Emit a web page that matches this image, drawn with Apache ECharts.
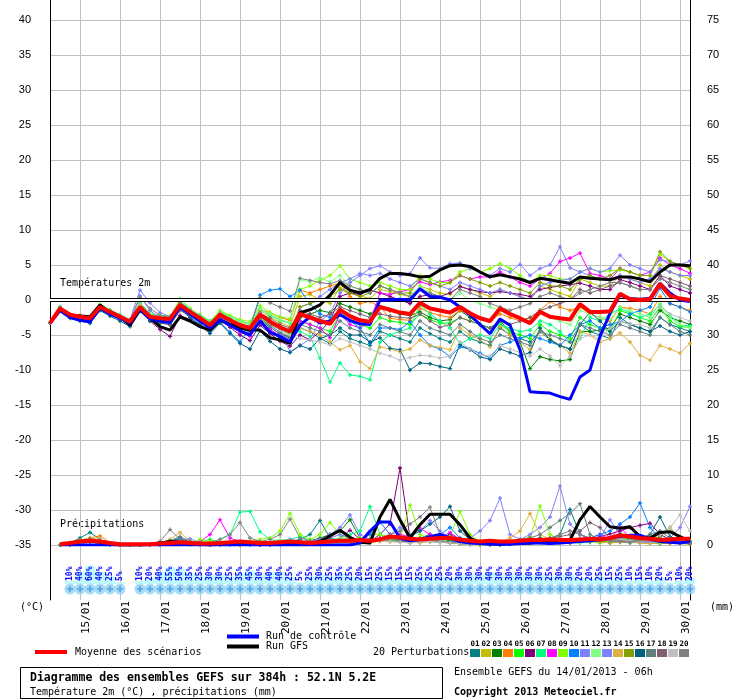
<!DOCTYPE html>
<html>
<head>
<meta charset="utf-8">
<script src="https://cdn.jsdelivr.net/npm/echarts@6/dist/echarts.min.js"></script>
<style>html,body{margin:0;padding:0;background:#fff}#chart{width:740px;height:700px}</style>
</head>
<body>
<div id="chart"></div>
<script>
const chart = echarts.init(document.getElementById('chart'));

// dates (grid every 00h), time steps are 6h from 14/01 06h (0..64)
const days = ['15/01','16/01','17/01','18/01','19/01','20/01','21/01','22/01','23/01','24/01','25/01','26/01','27/01','28/01','29/01','30/01'];

// 2m temperature (°C)
const tMean = [-3.3,-1.2,-2.1,-2.4,-2.6,-1.0,-1.7,-2.4,-3.1,-1.0,-2.4,-2.6,-2.7,-0.7,-1.7,-2.6,-3.6, -2.1,-2.9,-3.6,-4.0,-2.1,-3.1,-3.9,-4.5, -2.0,-2.5,-3.0,-3.4,-1.4,-2.3,-2.9,-3.1, -1.0,-1.4,-1.8,-2.0,-0.4,-1.2,-1.5,-1.8,-1.0,-1.9,-2.6,-3.0, -1.2,-2.0,-2.6,-3.3,-1.7,-2.4,-2.6,-2.8,-0.6,-1.7,-1.7,-1.6, 0.9,0.1,0.0,0.1,2.3,0.6,0.2,0.0];
const tGfs = [-3.3,-1.4,-2.3,-2.3,-2.4,-0.7,-1.8,-2.4,-3.6,-1.4,-2.6,-3.8,-4.3,-2.4,-3.0,-3.8,-4.3, -2.9,-3.5,-4.0,-4.3,-4.3,-5.4,-5.7,-6.2, -1.8,-1.4,-0.7,0.7,2.5,1.4,1.0,1.5, 3.1,3.8,3.8,3.6,3.3,3.4,4.3,4.9,5.0,4.8,4.0,3.3, 3.6,3.3,3.0,2.5,3.1,2.9,2.6,2.4,3.3,3.1,3.0,2.9, 3.3,3.3,3.0,2.6,4.0,5.0,5.0,4.9];
const tCtrl = [-3.3,-1.5,-2.5,-2.9,-3.1,-1.2,-2.0,-2.6,-3.3,-1.3,-2.7,-3.0,-3.2,-1.0,-2.0,-3.0,-4.0, -2.8,-3.6,-4.4,-5.0,-3.0,-4.6,-5.2,-6.0, -3.6,-2.4,-3.3,-3.0,-2.1,-2.9,-3.4,-3.5, 0.0,0.0,0.1,0.0,1.6,0.5,0.4,0.0,-1.0,-2.1,-3.5,-4.8, -2.7,-3.6,-7.1,-13.1,-13.2,-13.3,-13.8,-14.2,-11.0,-10.0,-5.2,-1.9, 0.7,0.2,0.1,0.2,2.4,1.0,0.0,-0.2];

const t01 = [-3.3,-1.0,-2.2,-2.3,-2.8,-0.8,-1.9,-2.6,-3.4,-0.6,-2.5,-2.8,-3.0,-0.5,-2.0,-3.0,-4.2, -2.5,-3.4,-4.3,-5.0,-3.0,-4.5,-5.5,-6.0, -4.0,-4.5,-5.5,-6.2,-4.5,-5.5,-6.0,-6.5, -4.5,-5.0,-5.5,-6.0,-4.0,-4.8,-5.5,-6.0,-4.5,-5.5,-6.0,-6.5, -4.0,-5.0,-5.5,-6.0,-4.5,-5.7,-6.5,-7.0,-3.5,-4.5,-5.0,-5.5, -2.5,-3.5,-4.0,-4.5,-2.5,-3.5,-4.0,-4.5];
const t02 = [-3.3,-1.3,-2.0,-2.4,-2.5,-1.2,-1.5,-2.2,-3.0,-1.2,-2.2,-2.4,-2.4,-0.6,-1.5,-2.2,-3.2, -1.8,-2.6,-3.2,-3.5,-1.5,-2.4,-3.2,-3.8, 0.5,0.8,0.0,-0.5,1.8,1.0,0.6,0.2, 1.5,1.2,0.8,0.5,2.0,1.5,1.0,0.8,2.0,1.5,1.0,0.5, 1.5,1.0,0.5,0.0,2.0,1.5,1.0,0.5,3.0,2.5,2.0,2.0, 3.5,3.0,2.5,2.0,5.0,4.0,3.5,3.0];
const t03 = [-3.3,-1.4,-2.3,-2.6,-2.7,-0.9,-1.8,-2.5,-3.2,-0.8,-2.6,-3.0,-3.2,-0.9,-2.1,-3.1,-3.9, -2.3,-3.2,-4.0,-4.5,-2.8,-3.9,-4.8,-5.4, -2.5,-2.0,-1.5,-1.8,-0.5,-1.0,-1.5,-2.0, -1.0,-1.5,-2.0,-2.2,-1.7,-2.5,-3.0,-2.8,-1.5,-2.5,-3.5,-4.0, -3.0,-4.5,-6.0,-9.8,-8.1,-8.5,-8.7,-8.5,-4.5,-4.5,-4.3,-4.0, -2.0,-2.5,-3.0,-3.5,-1.5,-2.5,-3.0,-3.5];
const t04 = [-3.3,-1.1,-2.0,-2.2,-2.4,-0.9,-1.6,-2.3,-2.9,-1.1,-2.0,-2.2,-2.3,-0.4,-1.4,-2.4,-3.3, -1.9,-2.7,-3.4,-3.8,-1.4,-1.8,-2.5,-2.9, 1.4,1.0,1.5,2.0,2.4,0.5,-0.5,-0.2, -1.0,-2.6,-2.8,-2.9,-1.2,-1.8,-2.2,-2.5,-1.5,-2.0,-2.5,-3.0, -2.0,-2.5,-3.0,-2.5,-1.5,-0.2,-1.0,-1.5,-1.0,-2.0,-2.5,-3.0, -1.0,-1.2,-1.5,-2.0,0.5,-0.5,-1.0,-1.5];
const t05 = [-3.3,-1.3,-2.2,-2.5,-2.8,-1.1,-1.8,-2.4,-3.0,-0.9,-2.3,-2.5,-2.6,-0.8,-1.9,-2.8,-3.7, -2.2,-3.1,-3.9,-4.4,-2.4,-3.5,-4.2,-4.9, -3.0,-3.5,-4.0,-4.5,-2.0,-3.0,-3.5,-4.0, -2.5,-3.0,-3.2,-3.5,-2.0,-2.8,-3.3,-3.3,-2.5,-3.0,-3.5,-4.0, -3.5,-4.5,-5.0,-5.5,-3.5,-4.5,-5.0,-5.5,-2.5,-3.5,-4.0,-4.5, -1.5,-2.0,-2.5,-3.0,-1.0,-3.0,-3.8,-3.9];
const t06 = [-3.3,-1.2,-2.4,-2.6,-3.2,-1.1,-1.9,-2.8,-3.3,-1.5,-3.0,-4.2,-5.2,-2.2,-2.8,-3.6,-4.4, -2.8,-3.9,-5.0,-5.8,-3.6,-4.8,-5.9,-6.6, -5.0,-5.7,-4.5,-3.0,0.5,1.0,0.8,1.4, 1.0,0.5,0.0,-0.5,0.5,0.8,0.5,1.0,1.9,1.5,1.2,1.0, 1.2,1.0,0.8,0.5,1.5,1.8,2.0,2.2,2.4,2.0,1.5,1.5, 2.9,2.5,2.0,1.5,3.5,2.0,1.5,1.0];
const t07 = [-3.3,-1.0,-2.0,-2.3,-2.5,-0.8,-1.4,-2.1,-2.8,-0.4,-1.9,-2.2,-2.3,-0.2,-1.3,-2.1,-3.0, -1.6,-2.4,-3.0,-3.4,-1.2,-2.2,-2.9,-3.3, -4.5,-5.2,-8.3,-11.7,-9.0,-10.7,-10.9,-11.4, -6.0,-5.0,-4.5,-4.0,-0.7,-2.0,-3.0,-4.0,-6.3,-5.5,-5.0,-5.5, -3.5,-4.0,-4.5,-4.3,-3.0,-3.5,-4.5,-6.0,-5.5,-2.5,-3.0,-2.0, -1.2,-1.8,-2.5,-2.0,-0.7,-2.1,-3.6,-3.7];
const t08 = [-3.3,-1.3,-2.2,-2.5,-2.9,-1.0,-1.7,-2.4,-3.3,-1.2,-2.6,-2.9,-3.0,-1.1,-2.0,-3.0,-4.0, -2.6,-3.6,-4.6,-5.2,-2.9,-4.2,-5.1,-5.6, -3.0,-3.5,-4.0,-5.4,-2.0,-3.5,-4.0,-3.0, 1.0,0.8,1.2,1.5,2.6,2.2,2.6,2.8,3.5,3.0,3.3,3.3, 4.0,3.3,2.5,2.0,3.0,3.8,5.5,6.0,6.7,3.8,3.5,3.0, 4.5,4.0,3.5,4.0,6.0,5.0,4.5,3.8];
const t09 = [-3.3,-1.1,-2.1,-2.4,-2.6,-0.6,-1.5,-2.2,-2.9,-0.8,-2.1,-2.4,-2.5,0.2,-1.2,-2.2,-3.1, -1.5,-2.2,-2.8,-3.1,-0.8,-1.8,-2.4,-2.7, 1.5,2.0,2.8,3.5,4.9,3.0,2.5,2.0, 2.5,2.0,1.5,1.5,3.5,3.0,2.5,2.5,4.0,4.5,4.0,4.5, 5.2,4.5,3.5,2.5,3.5,3.5,3.0,3.0,4.0,4.5,4.0,4.2, 4.3,4.0,3.5,3.5,6.5,5.5,5.0,4.5];
const t10 = [-3.3,-1.2,-2.0,-2.6,-3.3,-1.3,-2.0,-2.7,-3.6,-1.1,-2.8,-3.1,-3.3,-1.3,-2.4,-3.4,-4.5, -3.2,-4.6,-6.0,-4.0,0.7,1.4,1.6,0.5, 1.4,-0.5,-2.0,-2.5,-1.5,-3.0,-4.0,-6.2, -4.0,-4.0,-4.2,-3.1,-5.0,-6.5,-7.0,-8.1,-6.7,-7.0,-7.6,-8.3, -6.5,-6.0,-5.5,-5.0,-5.5,-6.0,-6.5,-5.0,-3.5,-3.0,-4.0,-3.5, -3.1,-2.0,-1.5,-1.0,1.7,-0.5,-1.0,-1.7];
const t11 = [-3.3,-1.2,-2.1,-2.3,-2.4,-0.9,-1.6,-2.2,-2.8,1.4,-0.4,-1.8,-2.4,-0.7,-1.6,-2.5,-3.4, -2.0,-2.8,-3.4,-3.9,-1.8,-3.0,-4.2,-7.4, -6.5,-5.6,-3.0,-2.0,1.0,2.5,3.5,4.5, 4.9,4.0,3.5,3.8,6.0,4.6,4.5,5.2,5.3,4.5,4.0,3.5, 4.5,4.0,5.1,3.5,4.5,5.0,7.6,4.6,4.0,4.5,4.0,4.5, 6.4,5.0,4.5,4.0,5.7,5.5,5.0,5.6];
const t12 = [-3.3,-1.1,-2.0,-2.3,-2.5,-0.7,-1.5,-2.2,-2.8,-0.6,-2.0,-2.3,-2.4,0.1,-1.2,-2.3,-3.2, -1.7,-2.5,-3.1,-3.5,-1.3,-2.0,-2.8,-3.2, 2.9,2.6,3.2,2.6,3.5,2.0,1.5,1.0, 2.0,1.5,1.0,0.5,2.0,1.0,0.5,0.0,1.0,0.0,-0.5,-1.0, -1.5,-2.0,-2.5,-3.0,-1.5,-2.5,-3.0,-3.5,-1.5,-2.0,-2.5,-2.8, -1.0,-1.5,-2.0,-2.5,-0.5,-2.5,-3.5,-4.0];
const t13 = [-3.3,-1.3,-2.3,-2.6,-2.8,-1.1,-1.9,-2.6,-3.2,0.6,-1.5,-2.6,-2.9,-0.9,-1.9,-2.8,-3.8, -2.4,-3.3,-4.1,-4.6,-2.6,-3.8,-4.9,-5.6, -1.0,-0.5,0.5,1.5,2.5,3.0,3.8,3.5, 3.8,3.0,2.5,2.0,3.0,2.5,2.0,1.5,2.5,2.0,1.5,1.0, 1.5,1.0,0.5,0.0,2.0,2.5,2.8,3.0,4.0,3.5,3.0,3.0, 3.5,3.0,2.5,3.0,4.5,4.0,3.5,3.5];
const t14 = [-3.3,-1.2,-2.1,-2.4,-2.6,-0.9,-1.6,-2.3,-3.0,-0.7,-2.2,-2.5,-2.6,-0.4,-1.6,-2.5,-3.4, -2.0,-2.9,-3.7,-4.2,-2.0,-3.2,-4.0,-4.6, -4.0,-4.5,-5.0,-6.0,-7.1,-6.5,-8.8,-9.8, -6.7,-7.0,-7.4,-7.0,-5.7,-6.5,-6.8,-7.1,-4.0,-5.0,-5.7,-6.7, -3.8,-5.0,-6.0,-7.1,-4.5,-5.5,-6.5,-7.6,-4.5,-5.0,-6.0,-5.5, -4.7,-6.0,-7.9,-8.6,-6.5,-7.0,-7.6,-6.2];
const t15 = [-3.3,-1.2,-2.2,-2.5,-2.7,-1.0,-1.8,-2.5,-3.1,-1.0,-2.4,-2.7,-2.8,-0.6,-1.7,-2.7,-3.6, -2.1,-3.0,-3.8,-4.3,-2.2,-3.3,-4.1,-4.7, -1.0,-0.5,0.0,0.5,1.5,1.0,0.5,1.0, 2.0,1.5,1.0,1.0,3.0,2.5,2.0,2.5,3.5,3.0,2.5,2.0, 2.5,2.0,1.5,1.0,2.5,2.0,2.0,1.5,3.0,3.5,3.0,3.5, 4.5,4.0,3.5,3.5,6.9,5.5,5.0,4.5];
const t16 = [-3.3,-1.5,-2.6,-3.0,-3.3,-1.5,-2.3,-3.0,-3.8,-1.6,-3.0,-3.3,-3.5,-1.3,-2.5,-3.6,-4.8, -3.3,-4.8,-6.2,-7.0,-4.4,-5.9,-7.0,-7.5, -6.5,-7.0,-5.5,-5.0,-4.0,-5.0,-5.0,-6.0, -5.4,-6.9,-7.1,-10.0,-9.0,-9.1,-9.5,-9.8,-6.4,-7.1,-8.1,-8.5, -7.0,-7.5,-8.0,-7.5,-4.0,-5.7,-6.5,-7.0,-3.5,-1.7,-3.0,-4.5, -3.0,-3.5,-4.0,-4.5,-3.7,-4.5,-5.0,-4.5];
const t17 = [-3.3,-1.4,-2.4,-2.7,-2.9,-1.2,-1.9,-2.6,-3.3,-1.1,-2.6,-2.9,-3.0,-0.8,-1.9,-2.9,-3.9, -2.6,-3.5,-4.4,-4.9,-2.7,-3.6,-4.6,-5.2, -3.5,-4.0,-4.5,-5.0,-3.0,-4.0,-4.5,-5.0, -3.5,-4.0,-4.5,-5.0,-3.0,-4.0,-4.5,-5.0,-3.5,-4.5,-5.5,-6.0, -5.0,-5.5,-6.0,-6.5,-4.5,-5.0,-5.5,-6.0,-3.5,-4.0,-4.5,-5.0, -3.5,-4.0,-4.5,-5.0,-2.5,-3.5,-4.5,-5.0];
const t18 = [-3.3,-1.2,-2.2,-2.5,-2.8,-1.1,-1.8,-2.5,-3.2,-1.3,-2.7,-3.1,-3.6,-1.5,-2.2,-3.2,-4.1, -2.4,-3.2,-4.0,-4.5,-1.9,-2.6,-3.5,-4.0, -1.5,-2.0,-2.5,-2.0,-1.0,-1.5,-2.0,-2.5, -2.0,-2.3,-2.5,-2.6,-2.0,-3.0,-3.9,-3.5,-2.5,-3.0,-3.5,-4.0, -3.0,-3.5,-3.0,-2.5,-1.5,-1.0,-0.5,0.0,1.5,1.0,1.5,2.0, 2.5,2.0,1.5,1.5,3.5,3.0,2.5,2.0];
const t19 = [-3.3,-1.3,-2.2,-2.4,-2.6,-1.0,-1.7,-2.4,-3.1,-0.9,-2.3,-2.6,-2.7,-0.7,-1.8,-2.7,-3.6, -2.2,-3.0,-3.7,-4.1,-2.1,-3.3,-4.3,-5.0, -5.5,-5.7,-6.0,-6.4,-5.5,-6.0,-6.5,-7.0, -7.6,-8.0,-8.6,-8.2,-7.9,-8.0,-8.3,-8.0,-6.0,-7.0,-7.8,-8.0, -6.5,-7.0,-7.5,-8.0,-7.0,-8.0,-9.4,-8.0,-5.5,-5.0,-5.5,-4.0, -3.0,-3.5,-3.5,-4.0,-1.0,-2.0,-2.5,-3.0];
const t20 = [-3.3,-1.1,-2.1,-2.3,-2.5,-0.9,-1.6,-2.3,-2.9,0.4,-1.2,-2.2,-2.5,-0.3,-1.5,-2.4,-3.3, -1.9,-2.7,-3.5,-3.8,0.3,-0.4,-1.0,-1.6, 3.1,2.8,2.5,2.3,2.8,2.0,1.5,1.0, 2.0,1.5,1.0,0.5,1.5,1.0,0.5,0.0,1.5,1.0,0.5,-0.5, -1.0,-1.5,-1.0,-0.5,0.5,1.0,0.5,0.0,1.0,1.5,2.0,2.5, 2.5,2.0,1.5,1.5,3.0,2.5,2.0,1.5];

// 6h precipitation (mm), no value at the start time
const pMean = [null, 0.1,0.3,0.5,0.6,0.5,0.3,0.1,0.1, 0.1,0.1,0.2,0.3,0.4,0.3,0.2,0.2, 0.3,0.4,0.5,0.4,0.3,0.3,0.4,0.5, 0.4,0.3,0.4,0.5,0.6,0.6,0.7,0.6, 0.8,1.2,1.1,0.9,0.8,0.9,1.0,1.0, 0.8,0.6,0.5,0.6,0.5,0.5,0.6,0.7, 0.7,0.8,0.7,0.7,0.8,0.9,0.8,1.0, 1.4,1.2,1.0,0.9,0.7,0.8,0.9,0.9];
const pGfs = [null, 0,0.2,0.5,0.6,0.4,0.1,0,0, 0,0.1,0.3,0.5,0.4,0.2,0.1,0, 0.1,0.2,0.2,0.1,0.1,0.1,0.2,0.2, 0.1,0.2,0.5,1.3,2.1,1.1,0.4,0.3, 4.0,6.5,3.6,1.0,2.9,4.4,4.4,4.4, 2.9,1.0,0.3,0.2,0.1,0.2,0.2,0.3, 0.4,0.5,0.6,0.7,3.6,5.5,4.0,2.6, 2.4,2.6,1.2,1.0,1.8,1.9,1.2,0.5];
const pCtrl = [null, 0,0,0,0,0,0,0,0, 0,0,0,0,0,0,0,0, 0,0,0,0,0,0,0,0, 0,0,0,0,0,0,0.3,2.0, 3.3,3.3,1.0,0.6,0.8,1.2,1.5,1.0, 0.5,0.3,0.2,0.1,0.1,0.1,0.2,0.3, 0.3,0.2,0.3,0.4,0.5,0.6,0.8,1.0, 1.2,1.4,1.4,0.8,0.5,0.4,0.3,0.5];

const p01 = [null, 0,0.3,1.0,1.8,0.8,0.1,0,0, 0,0,0.2,0.6,0.9,0.4,0.1,0, 0,0.1,0.3,0.2,0.1,0,0.2,0.5, 0.8,1.5,3.5,1.0,0.5,0.3,0.2,0.5, 1.0,0.8,0.5,0.3,0.5,0.8,1.2,0.5, 0.3,0.2,0.1,0.1,0.2,0.1,0.3,0.5, 0.4,0.8,1.5,5.1,1.5,0.8,0.5,0.3, 1.0,0.5,0.3,0.5,0.8,0.4,0.3,0.2];
const p02 = [null, 0,0.2,0.6,0.9,0.5,0.1,0,0, 0,0,0.1,0.4,0.6,0.3,0,0, 0,0,0.2,0.3,0.1,0,0.1,0.3, 0.5,0.3,0.6,0.4,0.8,1.0,0.5,0.3, 0.6,0.5,0.9,0.4,0.3,0.6,0.8,0.4, 0.2,0.1,0,0.1,0.1,0.2,0.6,1.2, 0.5,0.3,0.4,0.6,0.5,0.4,0.3,0.8, 0.6,0.4,0.3,0.2,0.5,0.3,0.2,0.1];
const p03 = [null, 0,0.1,0.4,0.7,0.5,0.1,0,0, 0,0,0,0.3,0.5,0.2,0,0, 0,0.1,0.2,0.1,0,0.1,0.3,0.6, 0.4,0.6,1.0,1.5,2.0,3.6,1.0,0.5, 0.8,1.2,0.6,0.4,1.0,1.5,1.0,0.6, 0.3,0.2,0.1,0,0.1,0.2,0.4,0.6, 1.0,0.8,0.6,0.5,0.4,0.6,0.5,0.3, 0.5,0.8,0.4,0.3,0.2,0.4,0.3,0.2];
const p04 = [null, 0,0.2,0.7,1.0,1.3,0.3,0,0, 0,0,0.1,0.5,0.7,0.5,0.1,0, 0,0,0.1,0.2,0.1,0,0.2,0.4, 0.3,0.2,0.4,0.5,0.3,0.2,0.4,0.6, 0.5,0.8,1.0,0.6,0.4,0.5,0.6,0.3, 0.2,0.1,0.1,0,0.1,0.3,0.5,0.4, 0.3,0.5,0.8,0.6,0.4,0.8,1.2,0.6, 0.4,0.3,0.6,0.4,0.3,0.2,0.5,0.3];
const p05 = [null, 0,0.1,0.3,0.6,0.4,0,0,0, 0,0,0,0.2,0.3,0.1,0.5,0.8, 0.3,0.1,0,0.1,0,0.2,0.3,0.2, 0.1,0.3,0.5,0.8,0.6,0.5,0.3,0.4, 0.6,1.0,0.8,0.5,0.7,0.9,0.6,0.4, 0.3,0.2,0.1,0.1,0,0.2,0.3,0.5, 0.6,0.4,0.5,0.3,0.6,0.4,0.8,1.0, 1.5,0.6,0.4,0.3,0.2,0.5,0.4,0.3];
const p06 = [null, 0,0.1,0.3,0.5,0.3,0,0,0, 0,0,0.1,0.3,0.4,0.2,0,0, 0,0.1,0.1,0.2,0,0.1,0.2,0.3, 0.2,0.4,0.6,0.8,1.0,2.1,0.8,0.5, 1.5,3.0,11.0,1.0,0.5,0.8,1.0,1.5, 0.8,0.4,0.2,0.1,0.1,0.2,0.4,0.3, 0.5,0.6,0.4,0.3,0.5,0.8,1.2,1.6, 2.0,2.5,2.8,3.1,1.5,0.8,0.5,0.3];
const p07 = [null, 0,0.1,0.2,0.4,0.2,0,0,0, 0,0,0,0.2,0.3,0.1,0,0.3, 0.8,1.5,4.7,4.8,1.9,0.8,0.5,0.8, 1.2,0.6,0.5,0.8,1.0,1.5,2.0,5.5, 1.5,0.8,0.6,0.5,0.8,1.0,0.6,0.3, 0.2,0.1,0.1,0,0.1,0.2,0.3,0.2, 0.4,0.3,0.5,0.4,0.3,0.5,0.4,0.6, 0.5,0.3,0.4,0.3,0.5,0.8,0.5,0.4];
const p08 = [null, 0,0.1,0.4,0.8,0.5,0.1,0,0, 0,0,0.1,0.4,0.5,0.2,0.5,1.5, 3.6,1.0,0.5,0.3,0.2,0.1,0.2,0.3, 0.5,0.3,0.4,0.6,0.5,0.8,0.6,0.4, 0.8,1.0,1.5,1.2,2.4,1.5,1.0,1.8, 0.8,0.4,0.2,0.1,0.1,0.3,0.2,0.4, 0.6,0.5,0.4,0.6,0.8,1.0,1.5,0.8, 2.6,1.0,0.5,0.8,0.6,0.4,0.3,0.2];
const p09 = [null, 0,0.2,0.4,0.6,0.4,0.1,0,0, 0,0,0,0.2,0.4,0.2,0.8,0.4, 0.2,0.1,0.3,0.5,0.8,1.0,2.0,4.5, 1.5,0.8,1.5,3.2,1.5,0.8,1.0,1.5, 1.5,1.2,0.8,5.7,1.5,0.8,1.0,1.2, 4.8,1.5,0.5,0.3,0.2,0.4,0.6,1.0, 5.6,1.5,0.8,0.5,0.4,0.6,0.3,0.4, 0.8,0.5,0.3,0.5,0.6,0.4,0.5,0.6];
const p10 = [null, 0,0.1,0.3,0.5,0.3,0,0,0, 0,0,0.1,0.5,1.0,0.4,0.1,0, 0,0.1,0.2,0.1,0,0.1,0.2,0.3, 0.4,0.3,0.5,0.6,0.4,0.5,0.8,1.5, 3.3,1.5,0.8,0.5,0.6,0.8,1.5,2.5, 1.0,0.5,0.3,0.2,0.1,0.2,0.3,0.4, 0.5,0.6,0.4,0.5,0.8,1.0,1.5,2.0, 3.0,4.0,6.0,2.5,1.0,0.6,0.4,0.3];
const p11 = [null, 0,0.1,0.3,0.6,0.4,0.1,0,0, 0,0,0.1,0.3,0.6,0.9,0.3,0, 0,0.1,0.2,0.3,0.2,0.4,0.6,0.8, 0.5,0.6,0.8,1.5,2.5,4.3,1.5,0.8, 0.6,0.8,1.0,0.6,0.5,0.8,0.6,0.4, 0.5,1.0,2.0,3.5,6.7,1.5,0.8,1.5, 2.5,4.0,8.4,3.0,1.5,1.0,0.8,3.6, 1.5,0.8,0.6,0.5,0.8,1.0,2.5,5.5];
const p12 = [null, 0,0.1,0.3,0.5,0.3,0,0,0, 0,0,0,0.2,0.3,0.1,0,0, 0.1,0.2,0.3,0.4,0.3,0.5,0.8,0.6, 0.4,0.5,0.6,0.8,1.0,0.8,0.6,0.5, 0.8,1.0,1.2,0.8,0.6,0.5,0.4,0.3, 0.2,0.1,0.1,0.1,0.2,0.3,0.5,0.4, 0.3,0.5,0.4,0.6,0.5,0.4,0.3,0.5, 0.8,0.6,0.4,0.3,0.5,0.6,0.8,0.5];
const p13 = [null, 0,0.1,0.2,0.4,0.3,0,0,0, 0,0,0.1,0.2,0.4,0.6,0.2,0, 0,0,0.1,0.2,0.1,0.2,0.3,0.4, 0.3,0.5,0.8,1.0,1.5,1.0,0.6,0.8, 1.0,1.5,2.5,1.5,2.0,3.5,2.0,1.0, 0.5,0.3,0.2,0.1,0.2,0.3,0.4,0.5, 0.6,0.8,0.6,0.5,0.8,1.0,0.8,0.6, 0.5,0.4,0.3,0.4,0.5,0.6,0.4,0.3];
const p14 = [null, 0,0.2,0.6,1.0,0.8,0.2,0,0, 0,0,0.2,0.8,1.8,0.6,0.1,0, 0,0,0.1,0.2,0.1,0.1,0.2,0.3, 0.2,0.3,0.4,0.5,0.3,0.4,0.5,0.4, 0.6,0.5,0.4,0.3,0.4,0.6,0.5,0.3, 0.2,0.1,0.2,0.3,0.4,1.0,2.0,4.5, 1.5,0.8,0.5,0.4,0.6,0.5,0.4,0.3, 0.4,0.5,0.3,0.2,0.3,0.4,0.3,0.2];
const p15 = [null, 0,0.1,0.3,0.5,0.4,0.1,0,0, 0,0,0.1,0.3,0.4,0.2,0,0, 0,0.1,0.1,0.2,0.1,0,0.1,0.2, 0.3,0.4,0.5,0.6,0.4,0.5,0.6,0.8, 1.0,0.8,0.6,0.8,1.0,0.6,0.4,0.3, 0.2,0.2,0.1,0.1,0.2,0.3,0.4,0.5, 0.6,0.5,0.4,0.6,0.8,0.6,0.5,0.6, 0.8,1.0,0.6,0.8,1.2,2.5,1.0,0.6];
const p16 = [null, 0,0.2,0.5,0.8,0.5,0.1,0,0, 0,0,0.1,0.5,0.8,0.4,0.1,0, 0,0.1,0.2,0.1,0,0.1,0.2,0.3, 0.5,0.4,0.6,0.8,0.6,0.5,0.4,0.6, 0.8,1.0,0.8,1.2,2.0,3.0,4.0,5.5, 2.0,0.8,0.4,0.2,0.1,0.2,0.3,0.5, 0.8,0.6,0.5,0.8,0.6,0.5,0.8,1.0, 1.5,1.0,0.8,1.5,4.0,1.2,0.6,0.4];
const p17 = [null, 0,0.1,0.4,0.7,0.5,0.1,0,0, 0,0,0.1,0.6,1.2,0.5,0.1,0, 0,0.1,0.2,0.1,0.1,0.2,0.2,0.3, 0.4,0.3,0.5,0.6,0.5,0.4,0.6,0.5, 0.8,0.6,0.5,0.4,0.6,0.8,0.5,0.4, 0.3,0.2,0.1,0.2,0.3,0.5,0.8,1.0, 1.5,2.5,3.5,4.5,5.9,1.5,0.8,0.6, 0.5,0.8,1.0,1.5,2.0,1.0,0.5,0.3];
const p18 = [null, 0,0.1,0.3,0.5,0.4,0,0,0, 0,0,0.1,0.4,0.6,0.3,0,0, 0,0,0.1,0.2,0.1,0,0.1,0.2, 0.3,0.2,0.4,0.5,0.3,0.4,0.5,0.6, 0.8,1.0,0.7,0.5,0.6,0.5,0.4,0.3, 0.2,0.1,0.1,0.1,0.2,0.3,0.4,0.6, 0.8,1.0,1.2,1.5,2.0,3.2,2.5,1.0, 0.6,0.5,0.8,1.0,0.6,0.4,0.3,0.2];
const p19 = [null, 0,0.1,0.3,0.5,0.3,0,0,0, 0,0,0.1,0.3,0.5,0.2,0,0, 0,0,0.1,0.2,0.1,0.1,0.2,0.3, 0.2,0.3,0.4,0.3,0.2,0.3,0.4,0.5, 0.6,0.5,0.4,0.3,0.4,0.5,0.4,0.3, 0.2,0.1,0.1,0.1,0.1,0.2,0.3,0.4, 0.5,0.4,0.3,0.4,0.5,0.6,0.8,1.0, 0.8,0.6,0.5,0.8,1.5,2.5,4.3,2.0];
const p20 = [null, 0,0.2,0.5,0.9,0.6,0.1,0,0, 0,0,0.5,2.2,0.8,0.3,0.1,0.3, 0.8,1.5,3.2,1.0,0.5,0.8,1.5,3.7, 1.0,0.6,0.5,0.8,0.6,0.5,0.4,0.6, 1.0,1.5,2.0,3.0,4.0,5.4,1.5,0.8, 0.5,0.3,0.2,0.1,0.2,0.3,0.5,0.6, 0.8,1.0,1.5,2.0,1.5,1.0,0.8,0.6, 0.5,0.4,0.6,0.8,0.6,0.5,0.4,0.3];

// precipitation probability per 6h step (%)
const pctRain = [null,null,10,40,60,40,25,5,null, 10,20,40,55,50,35,25,30,30,25,35,45,30,40,40,25,5,25,30,25,35,25,20,15, 25,15,15,15,25,25,25,20,30,30,30,40,30,30,30,30,30,25,30,30,20,20,25,15,25,10,15,10,20,5,10,20];

const memberT = [t01,t02,t03,t04,t05,t06,t07,t08,t09,t10,t11,t12,t13,t14,t15,t16,t17,t18,t19,t20];
const memberP = [p01,p02,p03,p04,p05,p06,p07,p08,p09,p10,p11,p12,p13,p14,p15,p16,p17,p18,p19,p20];
const memberColors = ['#008080','#c0c000','#008000','#ff8000','#00ff00','#800080','#00ff80','#ff00ff','#80ff00','#0080ff',
  '#8080ff','#80ff80','#8080ff','#e0b040','#80a000','#006080','#608080','#806070','#c0c0c0','#808080'];

const mono = '"DejaVu Sans Mono", monospace';
const plus = 'path://M1,0H2V1H3V2H2V3H1V2H0V1H1Z';
const pts = arr => arr.map((v, i) => [i, v]);

const series = [];
// double black line at 0°C
series.push({
  type: 'line', xAxisIndex: 0, yAxisIndex: 0, data: [], z: 1, silent: true,
  markLine: { silent: true, symbol: ['none', 'none'], label: { show: false },
    data: [
      { yAxis: 0, lineStyle: { color: '#000', width: 4, type: 'solid' } },
      { yAxis: 0, lineStyle: { color: '#fff', width: 2, type: 'solid' } }
    ] }
});
memberT.forEach((d, k) => series.push({
  type: 'line', xAxisIndex: 0, yAxisIndex: 0, data: pts(d), symbol: plus, symbolSize: 4,
  lineStyle: { width: 1, color: memberColors[k] }, itemStyle: { color: memberColors[k] }, z: 2
}));
memberP.forEach((d, k) => series.push({
  type: 'line', xAxisIndex: 0, yAxisIndex: 1, data: pts(d), symbol: plus, symbolSize: 4,
  lineStyle: { width: 1, color: memberColors[k] }, itemStyle: { color: memberColors[k] }, z: 2
}));
[[tGfs, 0, '#000', 3], [pGfs, 1, '#000', 3], [tCtrl, 0, '#0000ff', 3], [pCtrl, 1, '#0000ff', 3],
 [tMean, 0, '#ff0000', 4], [pMean, 1, '#ff0000', 4]].forEach(([d, ax, c, w], k) => series.push({
  type: 'line', xAxisIndex: 0, yAxisIndex: ax, data: pts(d), showSymbol: false,
  lineStyle: { width: w, color: c }, itemStyle: { color: c }, z: 3 + k
}));
// probability strip
const pctData = pts(pctRain).filter(d => d[1] !== null);
series.push({
  type: 'bar', xAxisIndex: 4, yAxisIndex: 6, data: pctData, barWidth: 10,
  itemStyle: { color: '#c0fcff' },
  label: { show: true, position: 'insideBottom', distance: 3, rotate: 90, align: 'left', verticalAlign: 'middle',
    formatter: p => p.value[1] + '%', color: '#0000ff', fontFamily: mono, fontSize: 8, fontWeight: 'bold' }
});
series.push({
  type: 'scatter', xAxisIndex: 5, yAxisIndex: 7, data: pctData.map(d => [d[0], 0.5]),
  symbol: 'circle', symbolSize: 11, itemStyle: { color: '#92d2f4' }
});
series.push({
  type: 'scatter', xAxisIndex: 5, yAxisIndex: 7, data: pctData.map(d => [d[0], 0.5]),
  symbol: plus, symbolSize: 6, itemStyle: { color: '#4f9fe0' }
});

const hidden = { show: false };
const graphics = [
  { type: 'text', x: 60, y: 283, style: { text: 'Températures 2m', font: '10px ' + mono, fill: '#000', verticalAlign: 'middle' } },
  { type: 'text', x: 60, y: 524, style: { text: 'Précipitations', font: '10px ' + mono, fill: '#000', verticalAlign: 'middle' } },
  { type: 'text', x: 20, y: 607, style: { text: '(°C)', font: '10px ' + mono, fill: '#000', verticalAlign: 'middle' } },
  { type: 'text', x: 710, y: 607, style: { text: '(mm)', font: '10px ' + mono, fill: '#000', verticalAlign: 'middle' } },
  { type: 'line', shape: { x1: 35, y1: 652, x2: 67, y2: 652 }, style: { stroke: '#ff0000', lineWidth: 4 } },
  { type: 'text', x: 75, y: 652, style: { text: 'Moyenne des scénarios', font: '10px ' + mono, fill: '#000', verticalAlign: 'middle' } },
  { type: 'line', shape: { x1: 227, y1: 636.5, x2: 259, y2: 636.5 }, style: { stroke: '#0000ff', lineWidth: 4 } },
  { type: 'text', x: 266, y: 636.5, style: { text: 'Run de contrôle', font: '10px ' + mono, fill: '#000', verticalAlign: 'middle' } },
  { type: 'line', shape: { x1: 227, y1: 646.5, x2: 259, y2: 646.5 }, style: { stroke: '#000', lineWidth: 4 } },
  { type: 'text', x: 266, y: 646.5, style: { text: 'Run GFS', font: '10px ' + mono, fill: '#000', verticalAlign: 'middle' } },
  { type: 'text', x: 373, y: 652, style: { text: '20 Perturbations', font: '10px ' + mono, fill: '#000', verticalAlign: 'middle' } },
  { type: 'rect', shape: { x: 20.5, y: 667.5, width: 422, height: 31 }, style: { fill: '#fff', stroke: '#000', lineWidth: 1 } },
  { type: 'text', x: 30, y: 678, style: { text: 'Diagramme des ensembles GEFS sur 384h : 52.1N 5.2E', font: 'bold 11.5px ' + mono, fill: '#000', verticalAlign: 'middle' } },
  { type: 'text', x: 30, y: 692, style: { text: 'Température 2m (°C) , précipitations (mm)', font: '10px ' + mono, fill: '#000', verticalAlign: 'middle' } },
  { type: 'text', x: 454, y: 672, style: { text: 'Ensemble GEFS du 14/01/2013 - 06h', font: '10px ' + mono, fill: '#000', verticalAlign: 'middle' } },
  { type: 'text', x: 454, y: 692, style: { text: 'Copyright 2013 Meteociel.fr', font: 'bold 10px ' + mono, fill: '#000', verticalAlign: 'middle' } }
];
memberColors.forEach((c, k) => {
  graphics.push({ type: 'rect', shape: { x: 470 + 11 * k, y: 649, width: 10, height: 8 }, style: { fill: c } });
  graphics.push({ type: 'text', x: 475 + 11 * k, y: 644.5, style: { text: String(k + 1).padStart(2, '0'), font: 'bold 7.5px ' + mono, fill: '#000', align: 'center', verticalAlign: 'middle' } });
});

const option = {
  animation: false,
  backgroundColor: '#fff',
  textStyle: { fontFamily: mono },
  grid: [
    { left: 50, top: 20, width: 640, height: 525 },   // plot
    { left: 80, top: 0, width: 600, height: 600 },    // day grid lines
    { left: 86, top: 598, width: 600, height: 1 },    // day labels
    { left: 50, top: 0, width: 640, height: 600 },    // side axes
    { left: 50, top: 554, width: 640, height: 30 },   // probability strip
    { left: 50, top: 584, width: 640, height: 10 }    // icons
  ],
  xAxis: [
    { gridIndex: 0, type: 'value', min: 0, max: 64, show: false },
    { gridIndex: 1, type: 'category', data: days, boundaryGap: false, axisLine: hidden, axisTick: hidden, axisLabel: hidden,
      splitLine: { show: true, interval: 0, lineStyle: { color: '#c0c0c0', width: 1 } } },
    { gridIndex: 2, type: 'category', data: days, boundaryGap: false, axisLine: hidden, axisTick: hidden,
      axisLabel: { interval: 0, rotate: 90, margin: 2, fontFamily: mono, fontSize: 11, color: '#000' } },
    { gridIndex: 3, type: 'value', min: 0, max: 1, show: false },
    { gridIndex: 4, type: 'value', min: 0, max: 64, show: false },
    { gridIndex: 5, type: 'value', min: 0, max: 64, show: false }
  ],
  yAxis: [
    { gridIndex: 0, type: 'value', min: -35, max: 40, interval: 5, position: 'left',
      axisLine: hidden, axisTick: hidden,
      axisLabel: { margin: 19, fontSize: 11, fontFamily: 'Liberation Sans', color: '#000' },
      splitLine: { show: true, lineStyle: { color: '#c0c0c0', width: 1 } } },
    { gridIndex: 0, type: 'value', min: 0, max: 75, interval: 5, position: 'right',
      axisLine: hidden, axisTick: hidden, splitLine: hidden,
      axisLabel: { margin: 17, fontSize: 11, fontFamily: 'Liberation Sans', color: '#000' } },
    { gridIndex: 1, type: 'value', show: false },
    { gridIndex: 2, type: 'value', show: false },
    { gridIndex: 3, type: 'value', min: 0, max: 1, position: 'left', axisLine: { show: true, lineStyle: { color: '#000', width: 1 } },
      axisTick: hidden, axisLabel: hidden, splitLine: hidden },
    { gridIndex: 3, type: 'value', min: 0, max: 1, position: 'right', axisLine: { show: true, lineStyle: { color: '#000', width: 1 } },
      axisTick: hidden, axisLabel: hidden, splitLine: hidden },
    { gridIndex: 4, type: 'value', min: 0, max: 100, show: false },
    { gridIndex: 5, type: 'value', min: 0, max: 1, show: false }
  ],
  graphic: graphics,
  series: series
};
chart.setOption(option);
</script>
</body>
</html>
